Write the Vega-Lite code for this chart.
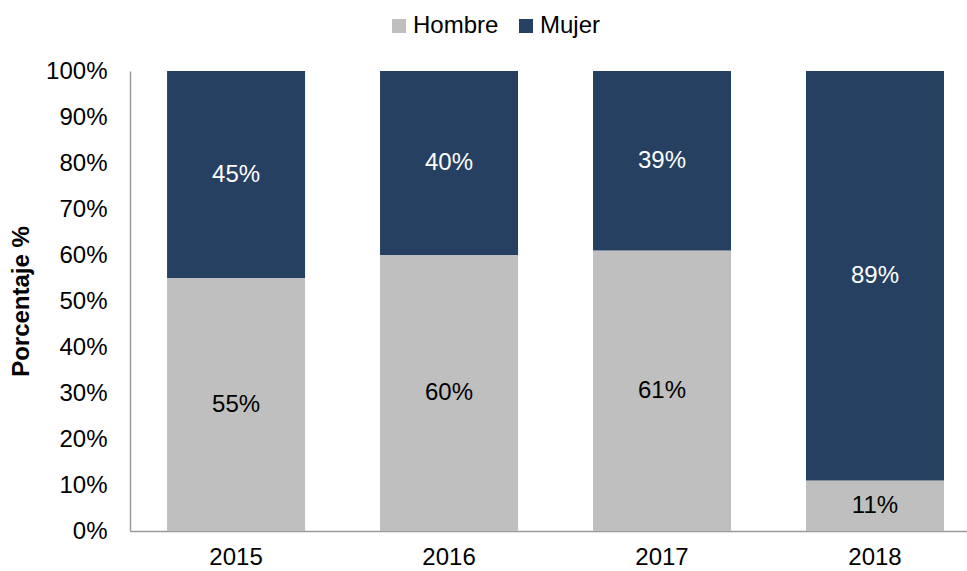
{
  "$schema": "https://vega.github.io/schema/vega-lite/v6.json",
  "width": 837,
  "height": 460,
  "autosize": {"type": "none"},
  "padding": {"left": 130, "top": 71, "right": 0, "bottom": 40},
  "background": "white",
  "config": {
    "view": {"stroke": null},
    "font": "Liberation Sans",
    "axis": {"grid": false, "ticks": false, "domainColor": "#9A9A9A", "domainWidth": 1.5, "labelFont": "Liberation Sans", "labelFontSize": 24, "labelColor": "#000000", "titleFont": "Liberation Sans", "labelOverlap": false}
  },
  "data": {
    "values": [
      {"anio": "2015", "sexo": "Hombre", "valor": 0.55},
      {"anio": "2015", "sexo": "Mujer", "valor": 0.45},
      {"anio": "2016", "sexo": "Hombre", "valor": 0.60},
      {"anio": "2016", "sexo": "Mujer", "valor": 0.40},
      {"anio": "2017", "sexo": "Hombre", "valor": 0.61},
      {"anio": "2017", "sexo": "Mujer", "valor": 0.39},
      {"anio": "2018", "sexo": "Hombre", "valor": 0.11},
      {"anio": "2018", "sexo": "Mujer", "valor": 0.89}
    ]
  },
  "transform": [
    {"stack": "valor", "groupby": ["anio"], "sort": [{"field": "sexo", "order": "ascending"}], "as": ["y0", "y1"]},
    {"calculate": "(datum.y0 + datum.y1) / 2", "as": "ymid"}
  ],
  "encoding": {
    "x": {
      "field": "anio", "type": "nominal", "title": null,
      "scale": {"paddingInner": 0.352, "paddingOuter": 0.141, "align": 0.617},
      "axis": {"labelAngle": 0, "labelPadding": 14}
    }
  },
  "layer": [
    {
      "mark": {"type": "bar"},
      "encoding": {
        "y": {
          "field": "y0", "type": "quantitative",
          "scale": {"domain": [0, 1]},
          "title": "Porcentaje %",
          "axis": {"format": ".0%", "values": [0,0.1,0.2,0.3,0.4,0.5,0.6,0.7,0.8,0.9,1], "labelPadding": 23, "title": "Porcentaje %", "titleFontSize": 24, "titleFontWeight": "bold", "titleColor": "#000000", "titlePadding": 12}
        },
        "y2": {"field": "y1"},
        "color": {
          "field": "sexo", "type": "nominal",
          "scale": {"domain": ["Hombre", "Mujer"], "range": ["#BFBFBF", "#264061"]},
          "legend": {
            "title": null, "orient": "none", "direction": "horizontal",
            "legendX": 257, "legendY": -57,
            "symbolType": "square", "symbolSize": 196, "symbolStrokeWidth": 0,
            "labelFontSize": 24, "labelFont": "Liberation Sans", "labelColor": "#000000",
            "columnPadding": 15, "labelOffset": 2
          }
        }
      }
    },
    {
      "mark": {"type": "text", "fontSize": 24, "font": "Liberation Sans", "baseline": "middle"},
      "encoding": {
        "y": {
          "field": "ymid", "type": "quantitative",
          "title": "Porcentaje %",
          "axis": {"format": ".0%", "values": [0,0.1,0.2,0.3,0.4,0.5,0.6,0.7,0.8,0.9,1], "labelPadding": 23, "title": "Porcentaje %", "titleFontSize": 24, "titleFontWeight": "bold", "titleColor": "#000000", "titlePadding": 12}
        },
        "text": {"field": "valor", "type": "quantitative", "format": ".0%"},
        "color": {"condition": {"test": "datum.sexo === 'Mujer'", "value": "#FFFFFF"}, "value": "#000000"}
      }
    }
  ]
}
